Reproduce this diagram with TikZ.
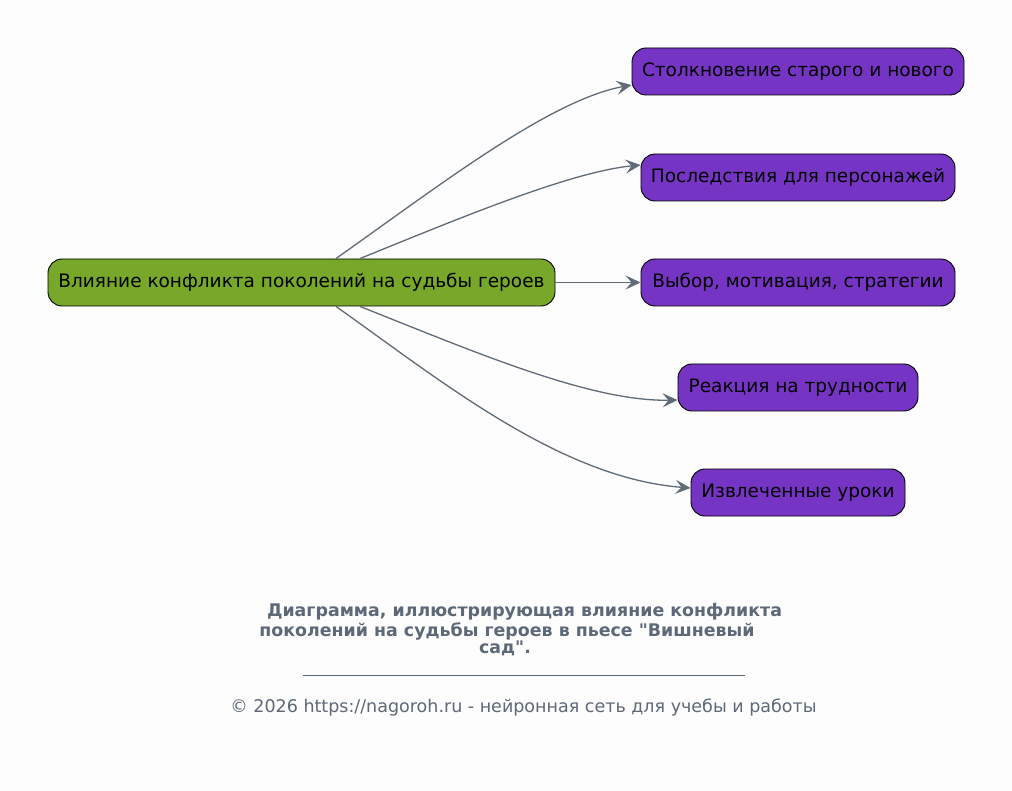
\documentclass[tikz,border=0pt]{standalone}
\usepackage{fontspec}
\newfontfamily\djv{DejaVu Sans}
\usetikzlibrary{arrows.meta}
\definecolor{bgc}{HTML}{FDFDFD}
\definecolor{edgec}{HTML}{5F6B77}
\definecolor{rootc}{HTML}{77A82A}
\definecolor{leafc}{HTML}{7634C4}
\definecolor{capc}{HTML}{5D6878}
\tikzset{
  box/.style={draw=black, line width=0.9pt, rounded corners=14pt, minimum height=47pt, inner xsep=8pt, text=black, font=\djv\fontsize{18.5}{21}\selectfont},
  rootbox/.style={box, fill=rootc},
  leafbox/.style={box, fill=leafc},
  conn/.style={draw=edgec, line width=1.3pt, -{Stealth[length=15pt, width=14pt, inset=6pt]}},
  captxt/.style={text=capc, font=\djv\bfseries\fontsize{17.4}{20}\selectfont, inner sep=0pt},
  copytxt/.style={text=capc, font=\djv\fontsize{17.5}{20}\selectfont, inner sep=0pt}
}
\begin{document}
\begin{tikzpicture}[x=1pt,y=-1pt]
\fill[bgc] (0,0) rectangle (1012,791);
\useasboundingbox (0,0) rectangle (1012,791);
\node[rootbox, minimum width=507pt] (root) at (301.5,282.5) {Влияние конфликта поколений на судьбы героев};
\node[leafbox, minimum width=332pt] (n1) at (798,71.5) {Столкновение старого и нового};
\node[leafbox, minimum width=314pt] (n2) at (798,177.5) {Последствия для персонажей};
\node[leafbox, minimum width=314pt] (n3) at (798,282.5) {Выбор, мотивация, стратегии};
\node[leafbox, minimum width=240pt] (n4) at (798,387.5) {Реакция на трудности};
\node[leafbox, minimum width=214pt] (n5) at (798,492.5) {Извлеченные уроки};
\draw[conn] ([xshift=34.5pt]root.north) .. controls (440,185) and (550,100) .. ([yshift=-13.5pt]n1.west);
\draw[conn] ([xshift=58.5pt]root.north) .. controls (460,218) and (570,172) .. ([yshift=12.5pt]n2.west);
\draw[conn] (root.east) -- (n3.west);
\draw[conn] ([xshift=58.5pt]root.south) .. controls (470,350) and (590,402) .. ([yshift=-12.5pt]n4.west);
\draw[conn] ([xshift=34.5pt]root.south) .. controls (440,380) and (560,478) .. ([yshift=4.5pt]n5.west);
\node[captxt] (c1) at (524.5,612) {Диаграмма, иллюстрирующая влияние конфликта};
\node[captxt] (c2) at (507,631) {поколений на судьбы героев в пьесе "Вишневый};
\node[captxt] (c3) at (505,648) {сад".};
\draw[capc, line width=0.6pt] (303,675) -- (745,675);
\node[copytxt] (cp) at (523.5,707.5) {© 2026 https://nagoroh.ru - нейронная сеть для учебы и работы};
\end{tikzpicture}
\end{document}
